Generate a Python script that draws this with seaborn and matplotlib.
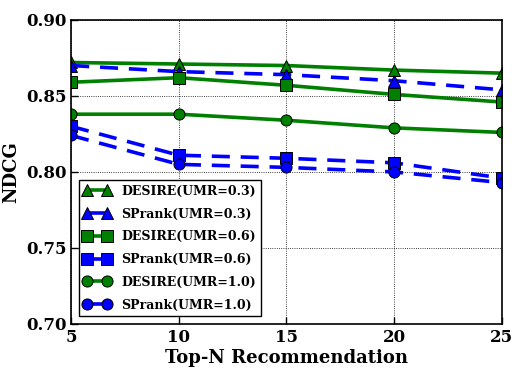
import pandas as pd
import matplotlib
matplotlib.use("Agg")
import matplotlib.pyplot as plt
import seaborn as sns

topn = [5, 10, 15, 20, 25]
desire_03 = [0.872, 0.871, 0.870, 0.867, 0.865]
sprank_03 = [0.870, 0.866, 0.864, 0.860, 0.854]
desire_06 = [0.859, 0.862, 0.857, 0.851, 0.846]
sprank_06 = [0.830, 0.811, 0.809, 0.806, 0.796]
desire_10 = [0.838, 0.838, 0.834, 0.829, 0.826]
sprank_10 = [0.824, 0.805, 0.803, 0.800, 0.793]

series = [
    ("DESIRE(UMR=0.3)", desire_03, "green", "^", "-"),
    ("SPrank(UMR=0.3)", sprank_03, "blue", "^", "--"),
    ("DESIRE(UMR=0.6)", desire_06, "green", "s", "-"),
    ("SPrank(UMR=0.6)", sprank_06, "blue", "s", "--"),
    ("DESIRE(UMR=1.0)", desire_10, "green", "o", "-"),
    ("SPrank(UMR=1.0)", sprank_10, "blue", "o", "--"),
]

sns.set_style("ticks")
plt.rcParams['font.family'] = ['DejaVu Serif']
plt.rcParams['font.weight'] = 'bold'
plt.rcParams['axes.labelweight'] = 'bold'
for k in ['text.color', 'axes.labelcolor', 'xtick.color', 'ytick.color', 'axes.edgecolor']:
    plt.rcParams[k] = 'black'

fig = plt.figure(figsize=(5.12, 3.69), dpi=100)
ax = fig.add_axes([0.139, 0.122, 0.841, 0.824])

for name, vals, col, mk, ls in series:
    df = pd.DataFrame({"x": topn, "y": vals})
    sns.lineplot(data=df, x="x", y="y", ax=ax, color=col, marker=mk,
                 linestyle=ls, linewidth=2.6, markersize=8,
                 markeredgecolor="black", markeredgewidth=0.7, label=name,
                 dashes=False)
    if ls == "--":
        ax.lines[-1].set_dashes([5, 3])

ax.set_xlim(5, 25)
ax.set_ylim(0.70, 0.90)
ax.set_xticks(topn)
ax.set_yticks([0.70, 0.75, 0.80, 0.85, 0.90])
ax.set_yticklabels(["0.70", "0.75", "0.80", "0.85", "0.90"])
ax.tick_params(direction="in", labelsize=12, width=1, length=5)
ax.grid(True, color="black", linestyle=":", linewidth=0.6)
for s in ax.spines.values():
    s.set_linewidth(1.2)
    s.set_visible(True)
ax.set_xlabel("Top-N Recommendation", fontsize=13, labelpad=2)
ax.set_ylabel("NDCG", fontsize=13)

leg = ax.legend(loc="lower left", numpoints=2, fontsize=9, fancybox=False,
                framealpha=1, edgecolor="black", handlelength=2.2,
                borderaxespad=0.6, labelspacing=0.78)
leg.get_frame().set_linewidth(1.0)

fig.savefig("out.png", dpi=100)
